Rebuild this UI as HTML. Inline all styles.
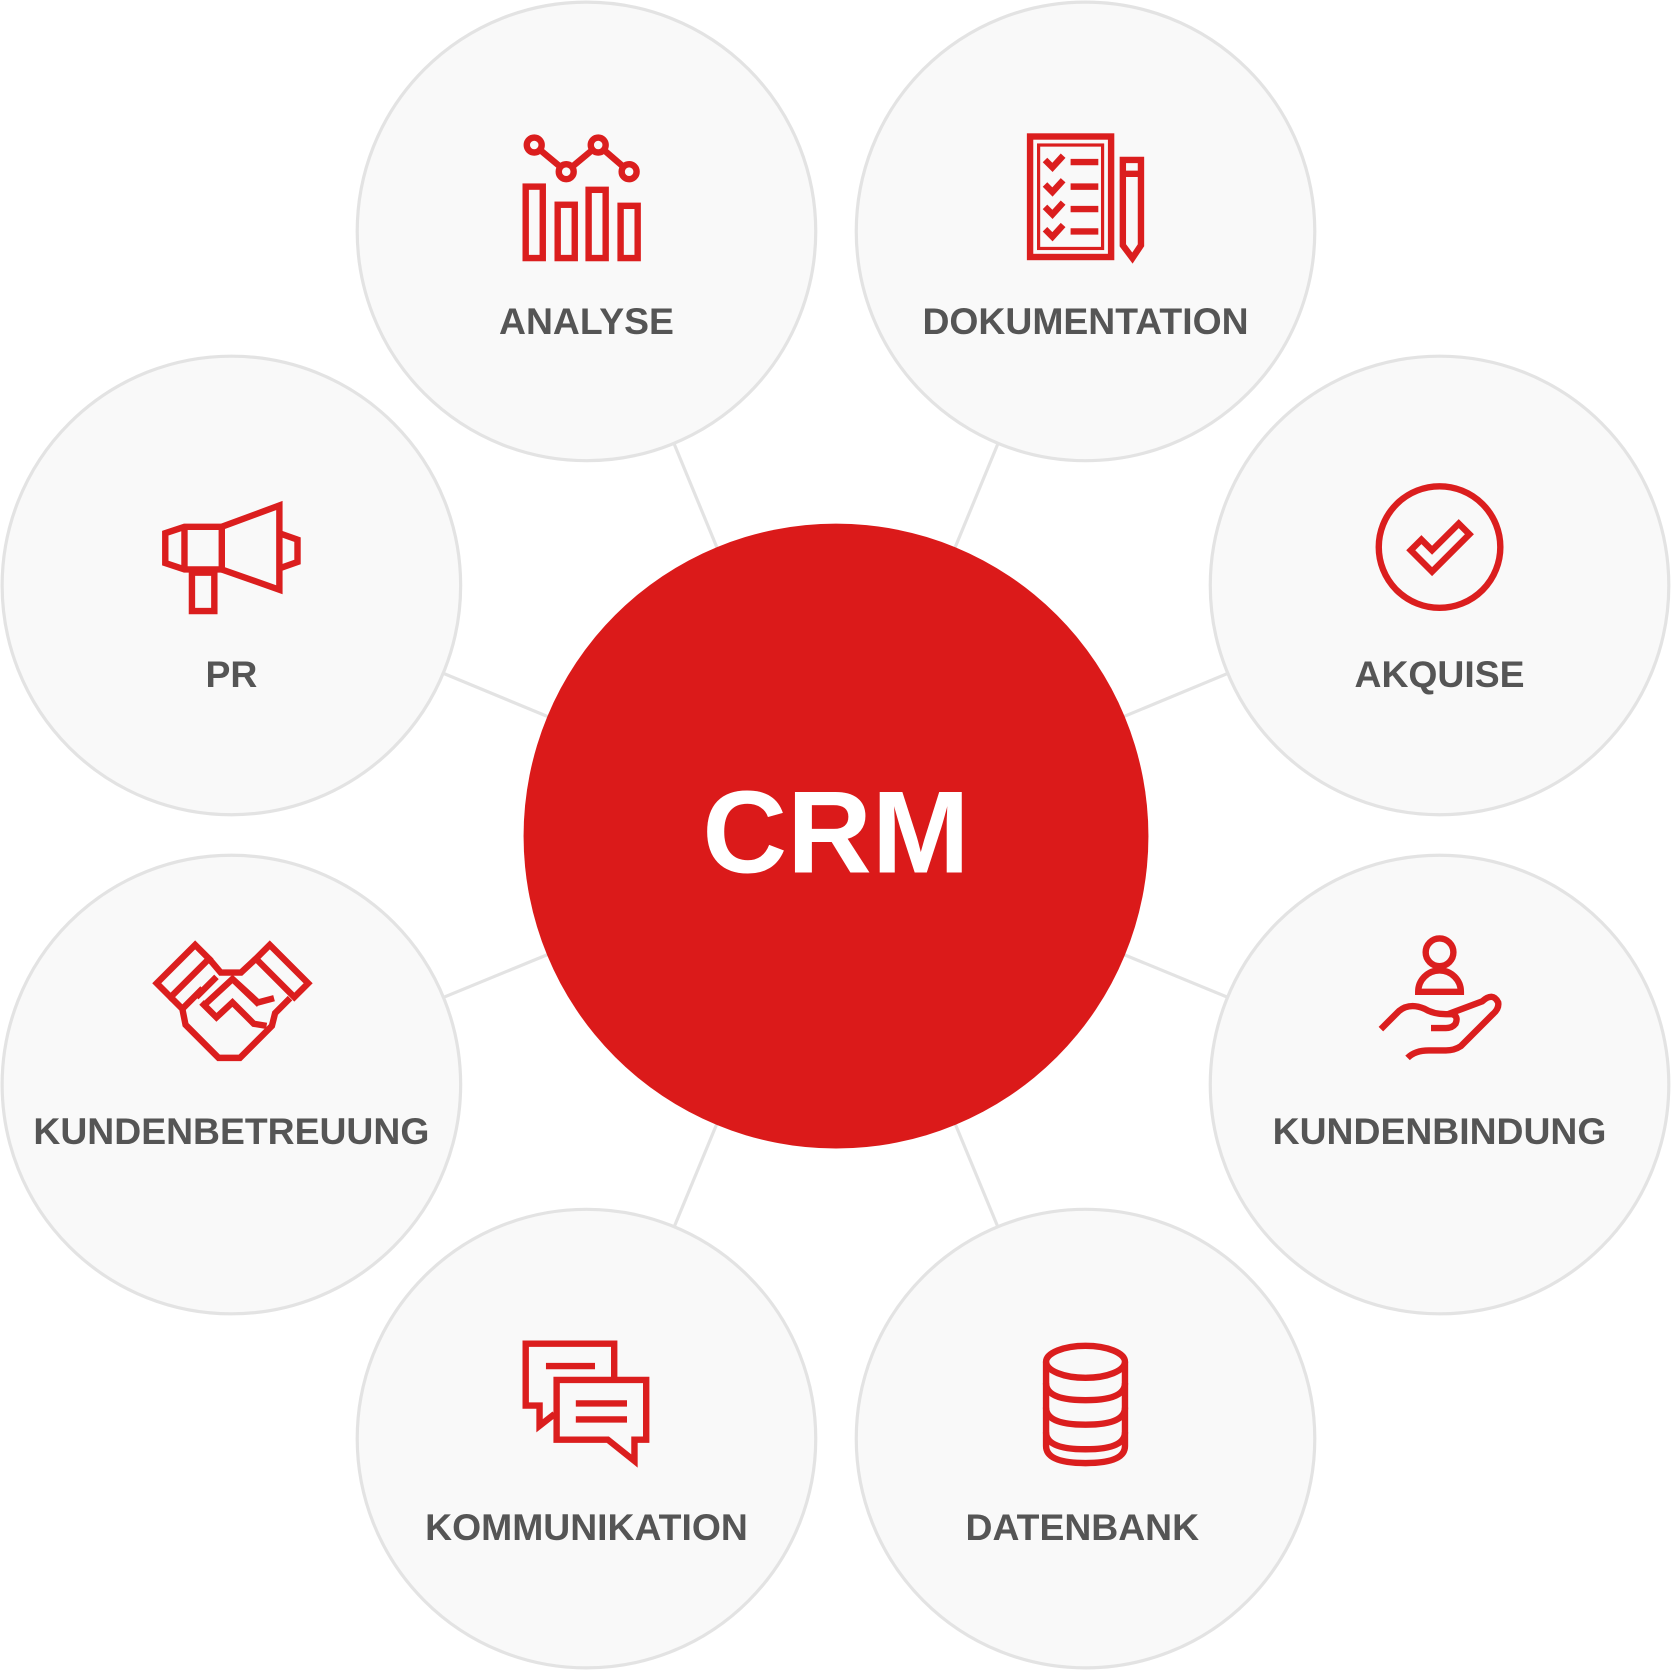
<!DOCTYPE html>
<html><head><meta charset="utf-8"><style>
html,body{margin:0;padding:0;background:#fff;}
svg{display:block;}
text{font-family:"Liberation Sans",sans-serif;font-weight:bold;}
</style></head><body>
<svg width="1672" height="1670" viewBox="0 0 1568 1566" preserveAspectRatio="none">
<g stroke="#e3e3e3" stroke-width="3">
<line x1="784" y1="784" x2="550" y2="217"/>
<line x1="784" y1="784" x2="1018" y2="217"/>
<line x1="784" y1="784" x2="1350" y2="549"/>
<line x1="784" y1="784" x2="1350" y2="1017"/>
<line x1="784" y1="784" x2="1018" y2="1349"/>
<line x1="784" y1="784" x2="550" y2="1349"/>
<line x1="784" y1="784" x2="217" y2="1017"/>
<line x1="784" y1="784" x2="217" y2="549"/>
</g>
<g fill="#f9f9f9" stroke="#e3e3e3" stroke-width="3">
<circle cx="550" cy="217" r="215"/>
<circle cx="1018" cy="217" r="215"/>
<circle cx="1350" cy="549" r="215"/>
<circle cx="1350" cy="1017" r="215"/>
<circle cx="1018" cy="1349" r="215"/>
<circle cx="550" cy="1349" r="215"/>
<circle cx="217" cy="1017" r="215"/>
<circle cx="217" cy="549" r="215"/>
</g>
<circle cx="784" cy="784" r="293" fill="#db1a1a"/>
<text x="784" y="818" font-size="110" fill="#fff" text-anchor="middle">CRM</text>
<g font-size="35" fill="#555" text-anchor="middle">
<text x="550" y="313">ANALYSE</text>
<text x="1018" y="313">DOKUMENTATION</text>
<text x="1350" y="644">AKQUISE</text>
<text x="1350" y="1073">KUNDENBINDUNG</text>
<text x="1015" y="1444">DATENBANK</text>
<text x="550" y="1444">KOMMUNIKATION</text>
<text x="217" y="1073">KUNDENBETREUUNG</text>
<text x="217" y="644">PR</text>
</g>
<g fill="none" stroke="#db1e1e" stroke-width="6">
<rect x="493" y="175" width="16" height="67"/>
<rect x="523" y="192" width="16" height="50"/>
<rect x="552" y="178" width="16" height="64"/>
<rect x="582" y="193" width="16" height="49"/>
<polyline points="501,136 531,161 561,136 590,161"/>
<circle cx="501" cy="136" r="7" fill="#f9f9f9"/><circle cx="531" cy="161" r="7" fill="#f9f9f9"/>
<circle cx="561" cy="136" r="7" fill="#f9f9f9"/><circle cx="590" cy="161" r="7" fill="#f9f9f9"/>
<rect x="966" y="128" width="76" height="113"/>
<rect x="974" y="136" width="60" height="97" stroke-width="3"/>
<polyline points="980,150 987,157 997,146"/><line x1="1004" y1="152" x2="1030" y2="152"/>
<polyline points="980,173 987,180 997,169"/><line x1="1004" y1="175" x2="1030" y2="175"/>
<polyline points="980,194 987,201 997,190"/><line x1="1004" y1="196" x2="1030" y2="196"/>
<polyline points="980,215 987,222 997,211"/><line x1="1004" y1="217" x2="1030" y2="217"/>
<path d="M1053,150 H1070 V230 L1062,242 L1053,230 Z"/><line x1="1053" y1="163" x2="1070" y2="163"/>
<circle cx="1350" cy="513" r="57"/>
<path d="M1323,516 L1333,506 L1343,516 L1368,491 L1378,501 L1343,536 Z"/>
<path d="M155,500 L173,494 H208 V534 H173 L155,528 Z"/>
<line x1="173" y1="494" x2="173" y2="534"/>
<path d="M208,494 L262,474 V553 L208,534"/>
<path d="M262,500 L279,506 V527 L262,533"/>
<rect x="180" y="537" width="21" height="36"/>
<path d="M147,922 L183,886 L196,899 L160,935 Z"/>
<path d="M289,922 L253,886 L240,899 L276,935 Z"/>
<path d="M196,899 L207,912 H226 L240,899"/>
<path d="M160,935 L171,946 L174,961 L205,992 H225 L255,962 L258,950 L272,936"/>
<path d="M171,946 L190,927 M184,935 L203,916"/>
<path d="M192,942 L218,918 L243,942 M218,918 L242,940 L257,936"/>
<path d="M189,940 L203,954 L218,940 L238,960 L250,962"/>
<circle cx="1350" cy="893" r="13"/>
<path d="M1330,930 A20,20 0 0 1 1370,930 Z"/>
<path d="M1295,965 L1312,948 Q1322,940 1336,946 Q1344,951 1356,951 H1362 Q1368,953 1365,960 Q1362,964 1356,964 H1342"/>
<path d="M1358,951 L1390,939 Q1400,930 1405,940 Q1406,946 1400,951 L1370,981 Q1364,985 1356,985 H1340 Q1327,985 1320,992"/>
<path d="M981,1277 V1356 Q981,1372 1018,1372 Q1055,1372 1055,1356 V1277"/>
<ellipse cx="1018" cy="1277" rx="37" ry="15"/>
<path d="M981,1297 Q981,1313 1018,1313 Q1055,1313 1055,1297"/>
<path d="M981,1320 Q981,1336 1018,1336 Q1055,1336 1055,1320"/>
<path d="M981,1343 Q981,1359 1018,1359 Q1055,1359 1055,1343"/>
<path d="M576,1294 V1260 H493 V1318 H506 V1337 L520,1326"/>
<path d="M522,1294 H606 V1350 H595 V1370 L570,1350 H522 Z"/>
<line x1="512" y1="1281" x2="558" y2="1281"/>
<line x1="540" y1="1316" x2="588" y2="1316"/>
<line x1="540" y1="1331" x2="588" y2="1331"/>
</g>
</svg>
</body></html>
